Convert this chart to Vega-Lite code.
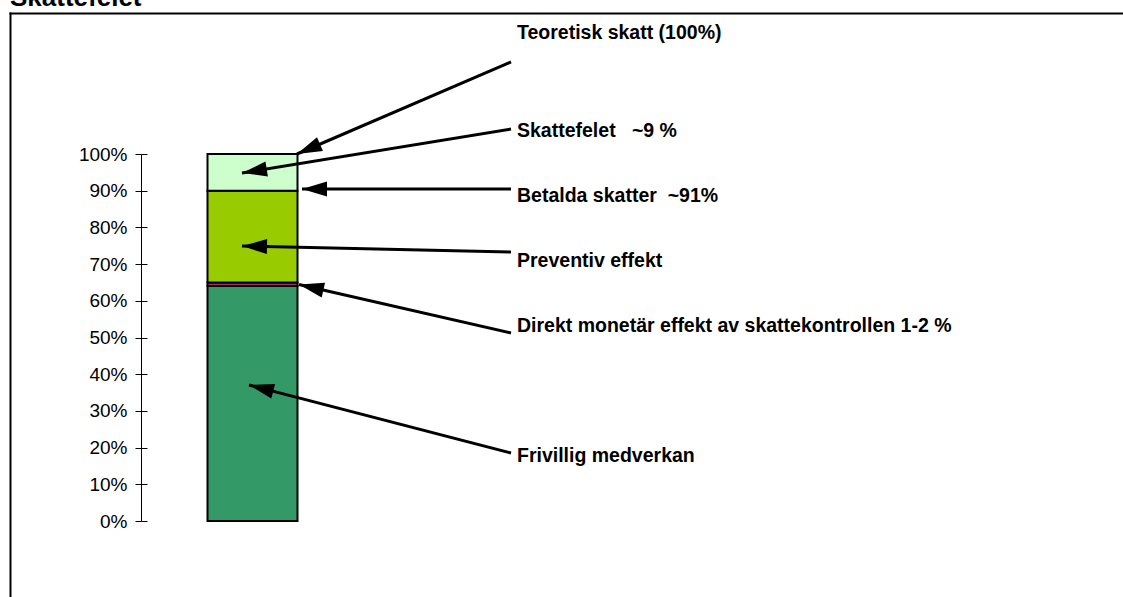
{
  "$schema": "https://vega.github.io/schema/vega-lite/v6.json",
  "width": 1113,
  "height": 584,
  "autosize": {"type": "none"},
  "padding": {"left": 10, "top": 13, "right": 0, "bottom": 0},
  "background": "white",
  "title": {
    "text": "Skattefelet",
    "anchor": "start",
    "frame": "group",
    "font": "Liberation Sans",
    "fontSize": 26,
    "fontWeight": "bold",
    "color": "black",
    "offset": 2
  },
  "config": {
    "view": {"stroke": null},
    "axis": {
      "labelFont": "Liberation Sans",
      "labelFontSize": 19,
      "labelColor": "black",
      "tickColor": "black",
      "domainColor": "black",
      "tickWidth": 1,
      "domainWidth": 1,
      "grid": false
    }
  },
  "datasets": {
    "segment": [
      {"kategori": "Skatt", "segment": "Frivillig medverkan", "andel": 0.64, "ordning": 1},
      {"kategori": "Skatt", "segment": "Direkt monetär effekt", "andel": 0.01, "ordning": 2},
      {"kategori": "Skatt", "segment": "Preventiv effekt", "andel": 0.25, "ordning": 3},
      {"kategori": "Skatt", "segment": "Skattefelet", "andel": 0.10, "ordning": 4}
    ],
    "annotering": [
      {"etikett": "Teoretisk skatt (100%)", "tx": 50.7, "ty": 1.3134, "x1": 50.1, "y1": 1.2507, "x2": 28.7, "y2": 1.0},
      {"etikett": "Skattefelet\u00a0\u00a0\u00a0~9 %", "tx": 50.7, "ty": 1.0463, "x1": 50.1, "y1": 1.0681, "x2": 23.2, "y2": 0.9482},
      {"etikett": "Betalda skatter\u00a0\u00a0~91%", "tx": 50.7, "ty": 0.8692, "x1": 50.1, "y1": 0.9046, "x2": 29.2, "y2": 0.9046},
      {"etikett": "Preventiv effekt", "tx": 50.7, "ty": 0.6921, "x1": 50.1, "y1": 0.7330, "x2": 23.2, "y2": 0.7493},
      {"etikett": "Direkt monetär effekt av skattekontrollen 1-2 %", "tx": 50.7, "ty": 0.5150, "x1": 50.1, "y1": 0.5123, "x2": 28.9, "y2": 0.6444},
      {"etikett": "Frivillig medverkan", "tx": 50.7, "ty": 0.1608, "x1": 50.1, "y1": 0.1853, "x2": 23.9, "y2": 0.3706}
    ]
  },
  "resolve": {
    "scale": {"x": "independent", "y": "independent"},
    "axis": {"x": "independent", "y": "independent"}
  },
  "layer": [
    {
      "data": {"name": "segment"},
      "mark": {"type": "bar", "stroke": "black", "strokeWidth": 2},
      "encoding": {
        "x": {
          "field": "kategori",
          "type": "nominal",
          "scale": {"paddingInner": 0.82405, "paddingOuter": 1, "align": 0.19306},
          "axis": null
        },
        "y": {
          "field": "andel",
          "type": "quantitative",
          "stack": "zero",
          "scale": {"domain": [0, 1], "range": [508, 141], "nice": false, "zero": false},
          "axis": {
            "orient": "left",
            "offset": -131,
            "values": [0, 0.1, 0.2, 0.3, 0.4, 0.5, 0.6, 0.7, 0.8, 0.9, 1],
            "format": ".0%",
            "tickSize": 6,
            "labelPadding": 8,
            "domain": true,
            "ticks": true,
            "labels": true,
            "title": null
          }
        },
        "color": {
          "field": "segment",
          "type": "nominal",
          "scale": {
            "domain": ["Frivillig medverkan", "Direkt monetär effekt", "Preventiv effekt", "Skattefelet"],
            "range": ["#339966", "#993366", "#99CC00", "#CCFFCC"]
          },
          "legend": null
        },
        "order": {"field": "ordning", "type": "quantitative"}
      }
    },
    {
      "data": {"name": "annotering"},
      "mark": {"type": "rule", "stroke": "black", "strokeWidth": 3},
      "encoding": {
        "x": {
          "field": "x1",
          "type": "quantitative",
          "scale": {"domain": [0, 111.3], "nice": false, "zero": false},
          "axis": {
            "orient": "top",
            "domain": true,
            "domainWidth": 2,
            "domainCap": "square",
            "ticks": false,
            "labels": false,
            "title": null
          }
        },
        "y": {
          "field": "y1",
          "type": "quantitative",
          "scale": {"domain": [0, 1], "range": [508, 141], "nice": false, "zero": false},
          "axis": {
            "orient": "right",
            "offset": -982,
            "values": [0, 0.1, 0.2, 0.3, 0.4, 0.5, 0.6, 0.7, 0.8, 0.9, 1],
            "tickSize": 6,
            "labels": false,
            "domain": false,
            "title": null
          }
        },
        "x2": {"field": "x2"},
        "y2": {"field": "y2"}
      }
    },
    {
      "data": {"name": "annotering"},
      "transform": [
        {"calculate": "atan2(-(datum.y2 - datum.y1) * 367, (datum.x2 - datum.x1) * 10) * 180 / PI", "as": "vinkel"}
      ],
      "mark": {
        "type": "point",
        "shape": "M0,0L-1,-0.3L-1,0.3Z",
        "filled": true,
        "color": "black",
        "opacity": 1,
        "size": 2500,
        "strokeWidth": 0
      },
      "encoding": {
        "x": {
          "field": "x2",
          "type": "quantitative",
          "scale": {"domain": [0, 111.3], "nice": false, "zero": false},
          "axis": null
        },
        "y": {
          "field": "y2",
          "type": "quantitative",
          "scale": {"domain": [0, 1], "range": [508, 141], "nice": false, "zero": false},
          "axis": null
        },
        "angle": {"field": "vinkel", "type": "quantitative", "scale": null}
      }
    },
    {
      "data": {"name": "annotering"},
      "mark": {
        "type": "text",
        "align": "left",
        "baseline": "alphabetic",
        "font": "Liberation Sans",
        "fontSize": 19.5,
        "fontWeight": "bold",
        "color": "black"
      },
      "encoding": {
        "x": {
          "field": "tx",
          "type": "quantitative",
          "scale": {"domain": [0, 111.3], "nice": false, "zero": false},
          "axis": null
        },
        "y": {
          "field": "ty",
          "type": "quantitative",
          "scale": {"domain": [-0.2071, 1.3842], "nice": false, "zero": false},
          "axis": {
            "orient": "left",
            "offset": 0,
            "domain": true,
            "domainWidth": 2,
            "domainCap": "square",
            "ticks": false,
            "labels": false,
            "title": null
          }
        },
        "text": {"field": "etikett"}
      }
    }
  ]
}
